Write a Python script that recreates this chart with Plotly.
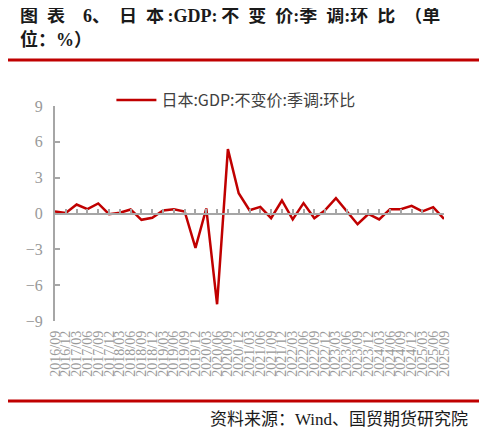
import plotly.graph_objects as go

# 日本GDP不变价季调环比，季度
quarters = ['2016/09', '2016/12', '2017/03', '2017/06', '2017/09', '2017/12',
            '2018/03', '2018/06', '2018/09', '2018/12', '2019/03', '2019/06',
            '2019/09', '2019/12', '2020/03', '2020/06', '2020/09', '2020/12',
            '2021/03', '2021/06', '2021/09', '2021/12', '2022/03', '2022/06',
            '2022/09', '2022/12', '2023/03', '2023/06', '2023/09', '2023/12',
            '2024/03', '2024/06', '2024/09', '2024/12', '2025/03', '2025/06',
            '2025/09']
gdp_qoq = [0.17, 0.05, 0.75, 0.36, 0.84, -0.06,
           0.06, 0.34, -0.53, -0.36, 0.25, 0.36,
           0.17, -2.88, 0.42, -7.6, 5.39, 1.7,
           0.28, 0.56, -0.39, 1.09, -0.5, 0.87,
           -0.39, 0.28, 1.28, 0.2, -0.9, -0.04,
           -0.5, 0.36, 0.36, 0.64, 0.17, 0.53,
           -0.45]
y_ticks = [9, 6, 3, 0, -3, -6, -9]

series_name = '日本:GDP:不变价:季调:环比'
title_line1 = ('图\u2002表\u20036、\u2002日\u2002本\u2009:GDP:\u2009不\u2002变\u2002价:季'
               '\u2002调:环\u2002比\u2002（单')
title_line2 = '位：%）'
source_text = '资料来源：Wind、国贸期货研究院'

red = '#C00000'
grey = '#A6A6A6'
serif = 'Liberation Serif, Noto Sans CJK SC'
cjk = 'Noto Sans CJK SC'

fig = go.Figure()

# invisible trace that carries the bottom category labels
fig.add_trace(go.Scatter(x=quarters, y=gdp_qoq, xaxis='x', yaxis='y',
                         mode='lines', line=dict(color='rgba(0,0,0,0)'),
                         showlegend=False, hoverinfo='skip'))
# actual line drawn on the axis crossing at zero
fig.add_trace(go.Scatter(x=quarters, y=gdp_qoq, xaxis='x2', yaxis='y',
                         mode='lines', name=series_name,
                         line=dict(color=red, width=2.5)))

# page body has an 8px margin, so the figure is 8px smaller than the window
fig.update_layout(
    width=479, height=422,
    margin=dict(l=47, r=43, t=98, b=109, autoexpand=False),
    paper_bgcolor='white', plot_bgcolor='white',
    showlegend=True,
    legend=dict(orientation='h', x=0.145, xanchor='left', y=1.028, yanchor='middle',
                font=dict(family=cjk, size=16, color='#404040'), itemwidth=40,
                bgcolor='rgba(0,0,0,0)'),
    xaxis=dict(type='category', categoryorder='array', categoryarray=quarters,
               range=[0, 36], tickmode='array', tickvals=quarters, ticktext=quarters,
               tickangle=-90, showline=False, showgrid=False, zeroline=False,
               ticks='', ticklabelstandoff=6,
               tickfont=dict(family=serif, size=14, color='#999999')),
    xaxis2=dict(type='category', categoryorder='array', categoryarray=quarters,
                range=[0, 36], overlaying='x', anchor='free', position=0.5,
                showline=True, linecolor=grey, linewidth=2,
                ticks='inside', ticklen=4, tickcolor=grey, tickwidth=1.5,
                tickmode='array', tickvals=quarters,
                showticklabels=False, showgrid=False, zeroline=False),
    yaxis=dict(range=[-9, 9], tickmode='array', tickvals=y_ticks,
               showline=True, linecolor=grey, linewidth=2,
               ticks='inside', ticklen=5, tickcolor=grey, tickwidth=1.5,
               showgrid=False, zeroline=False, ticklabelstandoff=7,
               tickfont=dict(family=serif, size=16, color='#999999')),
)

fig.add_annotation(text='<b>' + title_line1 + '</b>', xref='paper', yref='paper',
                   x=-0.095, y=1.421, xanchor='left', yanchor='middle',
                   showarrow=False, font=dict(family=serif, size=18, color='#1a1a1a'))
fig.add_annotation(text='<b>' + title_line2 + '</b>', xref='paper', yref='paper',
                   x=-0.095, y=1.309, xanchor='left', yanchor='middle',
                   showarrow=False, font=dict(family=serif, size=18, color='#1a1a1a'))
fig.add_annotation(text=source_text, xref='paper', yref='paper',
                   x=1.067, y=-0.46, xanchor='right', yanchor='middle',
                   showarrow=False, font=dict(family=serif, size=17, color='#1a1a1a'))

# red rules under the title and above the source
fig.add_shape(type='line', xref='paper', yref='paper', x0=-0.1285, x1=1.0977,
              y0=1.214, y1=1.214, line=dict(color=red, width=3))
fig.add_shape(type='line', xref='paper', yref='paper', x0=-0.1285, x1=1.0977,
              y0=-0.372, y1=-0.372, line=dict(color=red, width=3))

fig.write_html('out.html')
